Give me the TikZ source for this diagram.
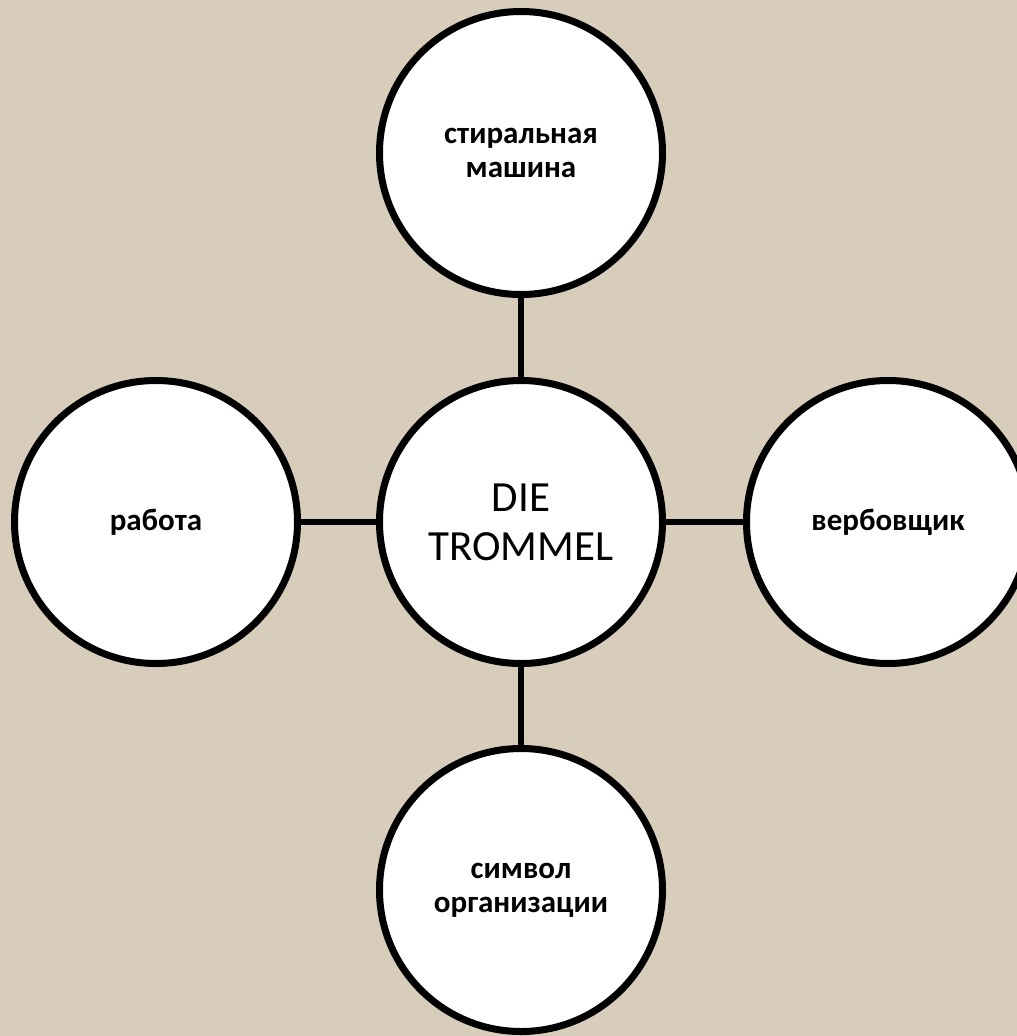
\documentclass[tikz,border=0pt]{standalone}
\usepackage{fontspec}
\setmainfont{Carlito}
\definecolor{bgbeige}{RGB}{215,205,186}
\begin{document}
\begin{tikzpicture}[x=1pt,y=-1pt,
  bubble/.style={circle, draw=black, line width=7pt, fill=white, minimum size=283pt, inner sep=0pt, align=center, text=black},
  sublabel/.style={font=\bfseries\fontsize{31}{34}\selectfont},
  mainlabel/.style={font=\fontsize{43}{49}\selectfont},
  link/.style={line width=6pt, draw=black}]
\useasboundingbox (0,0) rectangle (1017,1036);
\clip (0,0) rectangle (1017,1036);
\fill[bgbeige] (0,0) rectangle (1017,1036);
\node[bubble, mainlabel] (c) at (521,522) {DIE\\TROMMEL};
\node[bubble, sublabel] (t) at (521,153) {стиральная\\машина};
\node[bubble, sublabel] (l) at (156,522) {работа};
\node[bubble, sublabel] (r) at (888,522) {вербовщик};
\node[bubble, sublabel] (b) at (521,890) {символ\\организации};
\draw[link] (c) -- (t);
\draw[link] (c) -- (l);
\draw[link] (c) -- (r);
\draw[link] (c) -- (b);
\end{tikzpicture}
\end{document}
